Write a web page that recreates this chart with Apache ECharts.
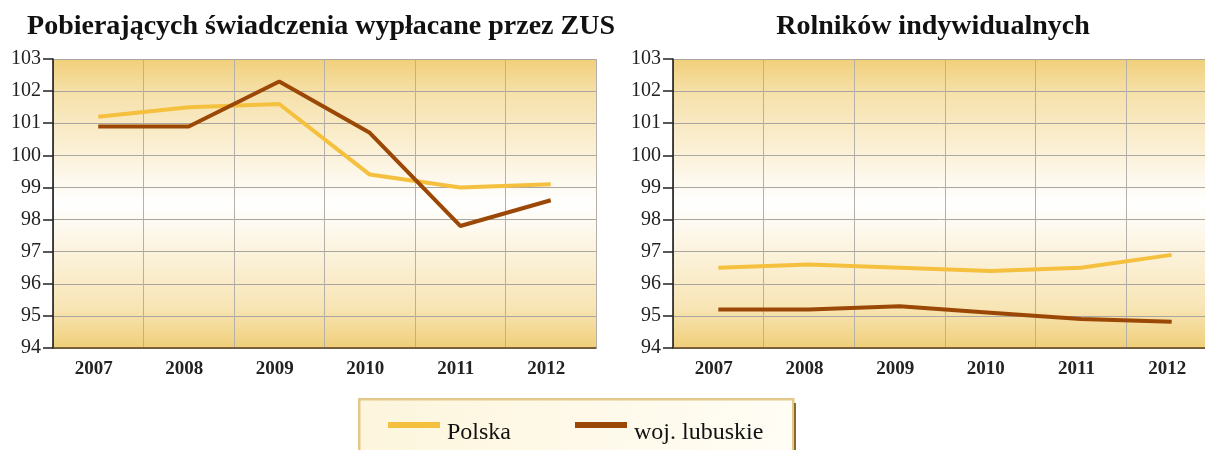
<!DOCTYPE html>
<html><head><meta charset="utf-8">
<script src="https://cdn.jsdelivr.net/npm/echarts@6/dist/echarts.min.js"></script>
<style>html,body{margin:0;padding:0;background:#fff}#c{width:1205px;height:450px}</style>
</head><body><div id="c"></div>
<script>
const years = ['2007','2008','2009','2010','2011','2012'];
const yTicks = [94, 103, 1];
const titles = ['Pobierających świadczenia wypłacane przez ZUS', 'Rolników indywidualnych'];
const seriesNames = ['Polska', 'woj. lubuskie'];
const zusPolska = [101.2, 101.5, 101.6, 99.4, 99.0, 99.1];
const zusLubuskie = [100.9, 100.9, 102.3, 100.7, 97.8, 98.6];
const rolPolska = [96.5, 96.6, 96.5, 96.4, 96.5, 96.9];
const rolLubuskie = [95.2, 95.2, 95.3, 95.1, 94.9, 94.82];

const colors = ['#f4c03e', '#9b4705'];
const serif = '"Liberation Serif","DejaVu Serif",serif';
const chart = echarts.init(document.getElementById('c'));
const bg = new echarts.graphic.LinearGradient(0, 0, 0, 1, [
  {offset: 0, color: '#f1cf7a'}, {offset: 0.12, color: '#f6e1ab'},
  {offset: 0.5, color: '#ffffff'}, {offset: 0.86, color: '#f8e5b5'}, {offset: 1, color: '#f0cf7a'}]);
const grids = [
  {left: 53, top: 59, width: 543, height: 289},
  {left: 673, top: 59, width: 544, height: 289}
];
function xAx(i){return {type:'category', gridIndex:i, data: years, boundaryGap:true,
  axisLine:{show:true, lineStyle:{color:'#5a4320', width:1.5}}, axisTick:{show:false},
  splitLine:{show:true, lineStyle:{color:'#b5b1aa', width:1}},
  axisLabel:{fontFamily:serif, fontWeight:'bold', fontSize:19, color:'#222', margin:12, padding:[0,9,0,0]}};}
function yAx(i){return {type:'value', gridIndex:i, min:yTicks[0], max:yTicks[1], interval:yTicks[2],
  axisLine:{show:true, lineStyle:{color:'#111', width:1.5}},
  axisTick:{show:true, length:10, lineStyle:{color:'#222', width:1.5}},
  splitLine:{show:true, lineStyle:{color:'#a9a6a0', width:1}},
  axisLabel:{fontFamily:serif, fontSize:20, color:'#222', margin:12}};}
function ln(name, data, xi, color){return {name, type:'line', xAxisIndex:xi, yAxisIndex:xi, data,
  symbol:'none', lineStyle:{width:4, color}, itemStyle:{color}, z:3};}
chart.setOption({
  animation:false,
  title: [
    {text: titles[0], left: 316, textAlign:'center', top: 8, textStyle:{fontFamily:serif, fontWeight:'bold', fontSize:28, color:'#111'}},
    {text: titles[1], left: 928, textAlign:'center', top: 8, textStyle:{fontFamily:serif, fontWeight:'bold', fontSize:28, color:'#111'}}
  ],
  grid: grids.map(g => Object.assign({show:true, backgroundColor: bg, borderWidth:0, outerBoundsMode:'none', containLabel:false}, g)),
  xAxis: [xAx(0), xAx(1)],
  yAxis: [yAx(0), yAx(1)],
  graphic: [
    {type:'rect', left:358, top:398, z:-1, shape:{width:434, height:60},
      style:{fill: new echarts.graphic.LinearGradient(0,0,1,1,[{offset:0,color:'#fdf5dc'},{offset:1,color:'#fffdf5'}]), stroke:'#e2c98a', lineWidth:2.5}},
    {type:'line', shape:{x1:795, y1:403, x2:795, y2:450}, style:{stroke:'#8a6a2a', lineWidth:2}}
  ],
  legend: {data: seriesNames, left: 388, top: 405, padding:0, itemWidth: 52, itemHeight: 6, itemGap: 64, icon:'rect',
    formatter: '{t|{name}}',
    textStyle:{fontFamily:serif, fontSize:24, color:'#111',
      rich:{t:{fontFamily:serif, fontSize:24, color:'#111', padding:[16,0,0,2], lineHeight:24}}}},
  series: [
    ln(seriesNames[0], zusPolska, 0, colors[0]),
    ln(seriesNames[1], zusLubuskie, 0, colors[1]),
    ln(seriesNames[0], rolPolska, 1, colors[0]),
    ln(seriesNames[1], rolLubuskie, 1, colors[1])
  ]
});
</script></body></html>
